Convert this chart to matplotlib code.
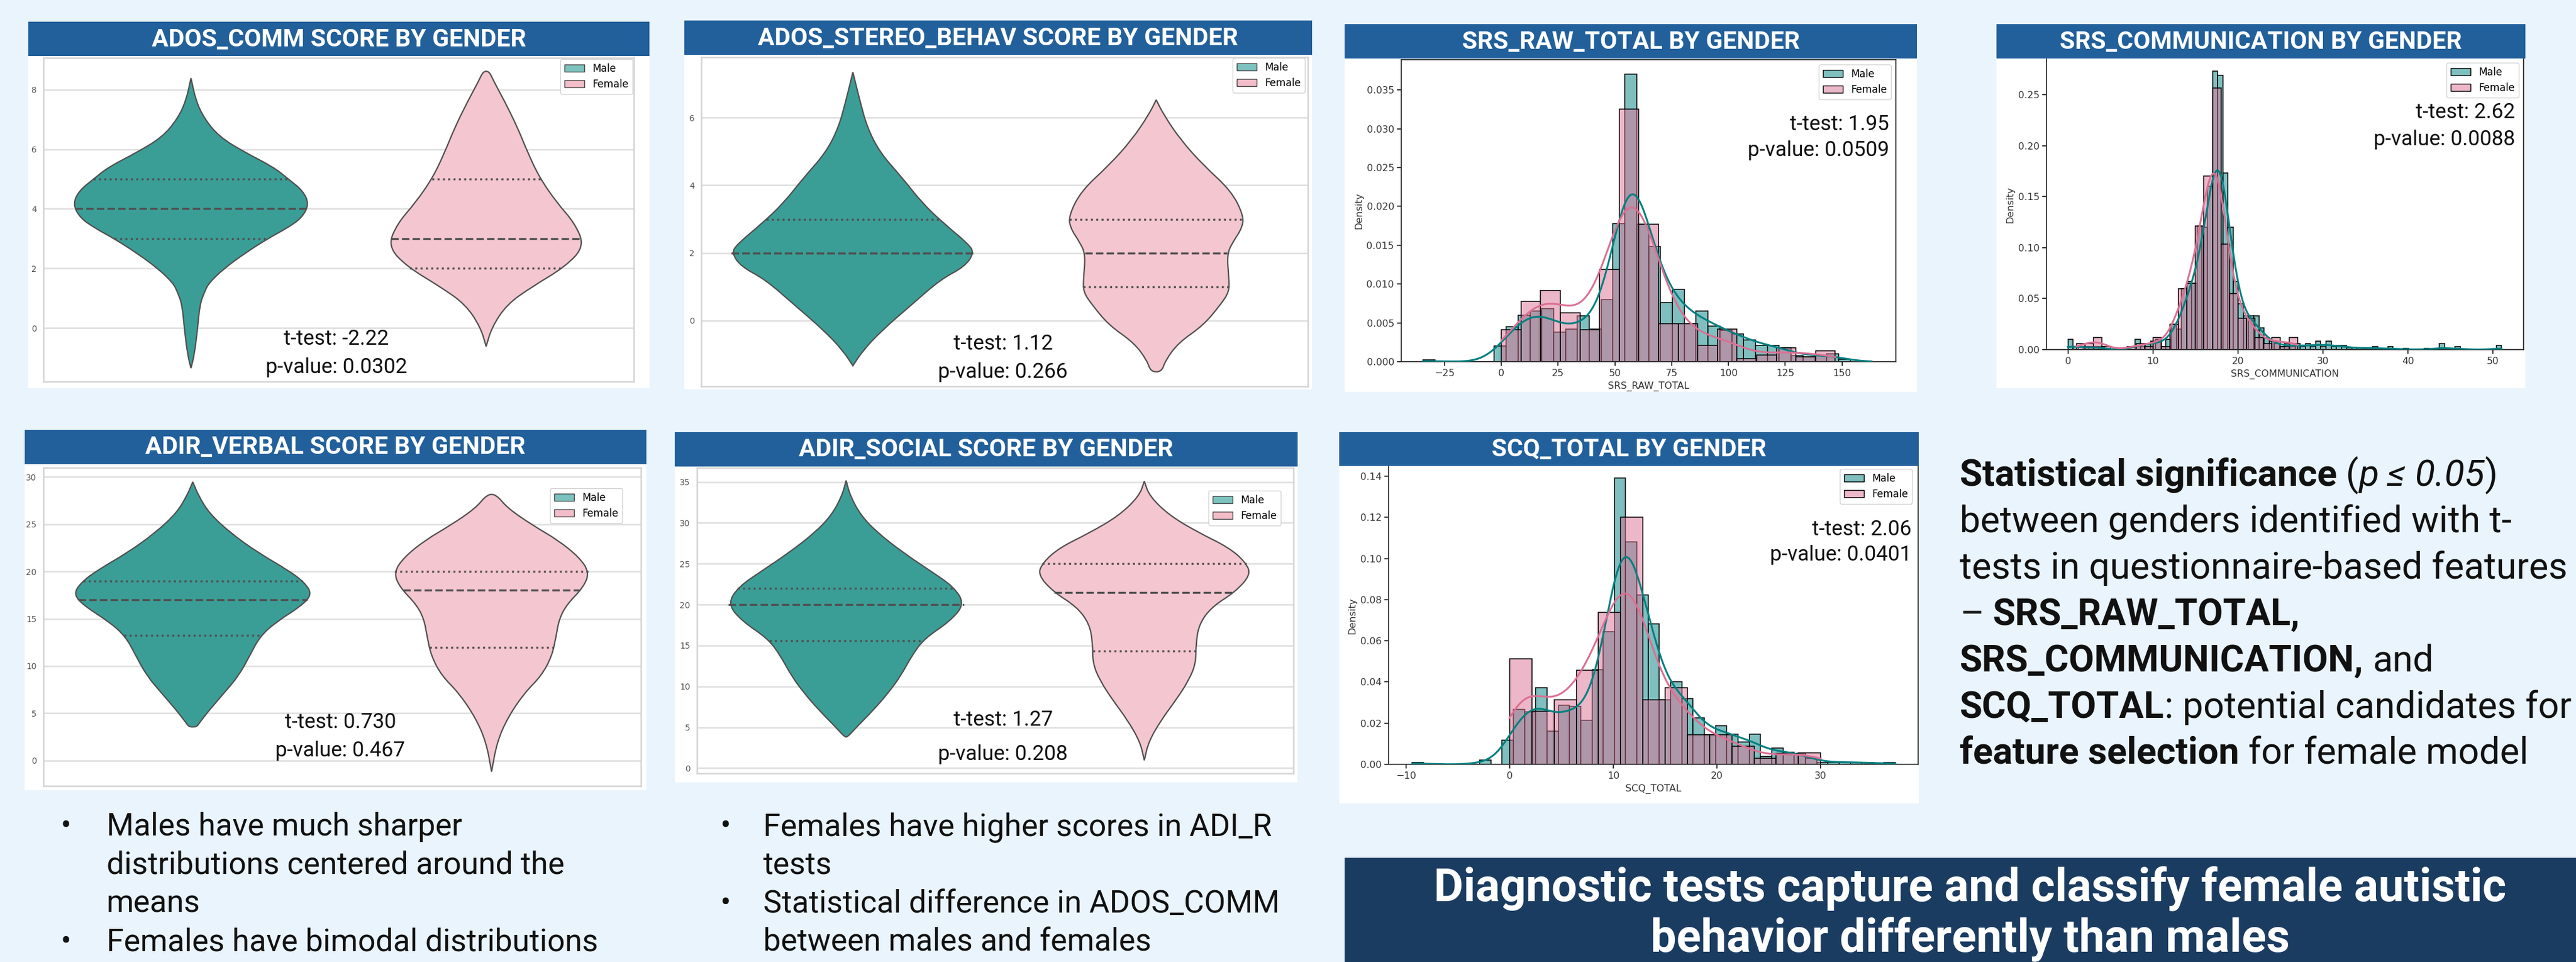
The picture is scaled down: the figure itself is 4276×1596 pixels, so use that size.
import numpy as np
import matplotlib
matplotlib.use("Agg")
import matplotlib.pyplot as plt
from matplotlib.patches import Rectangle, PathPatch, Patch
from matplotlib.path import Path
from matplotlib.colors import to_rgb

# ---------------- data ----------------
# violin outlines as (score, half width) pairs; quartiles as (q1, median, q3)
ados_comm_male = [(8.39, 0), (7.62, 0.017), (7.02, 0.046), (6.42, 0.096), (5.91, 0.18),
                  (5.40, 0.28), (5.0, 0.33), (4.6, 0.38), (4.15, 0.40), (3.69, 0.375),
                  (3.35, 0.325), (3.0, 0.26), (2.49, 0.18), (1.98, 0.11), (1.5, 0.06),
                  (1.21, 0.046), (0.79, 0.03), (-0.07, 0.022), (-0.92, 0.011), (-1.35, 0)]
ados_comm_female = [(8.62, 0.01), (8.3, 0.025), (7.62, 0.062), (6.76, 0.105), (5.91, 0.14),
                    (5.06, 0.18), (4.2, 0.24), (3.52, 0.30), (2.75, 0.333), (2.07, 0.27),
                    (1.38, 0.155), (0.79, 0.07), (0.02, 0.019), (-0.62, 0)]
ados_comm_quart = {"Male": (3, 4, 5), "Female": (2, 3, 5)}

stereo_male = [(7.35, 0), (6.47, 0.024), (5.72, 0.047), (4.97, 0.089), (4.22, 0.163),
               (3.47, 0.229), (2.87, 0.30), (2.27, 0.38), (2.0, 0.40), (1.59, 0.368),
               (1.22, 0.29), (0.47, 0.194), (-0.29, 0.096), (-0.89, 0.033), (-1.34, 0)]
stereo_female = [(6.53, 0), (6.10, 0.024), (5.35, 0.08), (4.59, 0.156), (3.84, 0.247),
                 (3.09, 0.289), (2.72, 0.282), (2.34, 0.254), (1.97, 0.233), (1.22, 0.24),
                 (0.84, 0.24), (0.47, 0.212), (-0.14, 0.156), (-0.66, 0.073), (-1.19, 0.03),
                 (-1.52, 0.018)]
stereo_quart = {"Male": (2, 2, 3), "Female": (1, 2, 3)}

verbal_male = [(29.46, 0), (27.97, 0.02), (26.15, 0.055), (24.07, 0.126), (21.99, 0.218),
               (20.17, 0.317), (18.87, 0.373), (17.56, 0.40), (16.26, 0.359), (14.70, 0.281),
               (13.14, 0.225), (11.06, 0.19), (8.98, 0.154), (7.16, 0.105), (5.33, 0.055),
               (4.03, 0.023), (3.56, 0.013)]
verbal_female = [(28.15, 0.015), (26.67, 0.054), (24.85, 0.139), (23.29, 0.223), (21.47, 0.294),
                 (19.9, 0.327), (18.35, 0.308), (16.52, 0.252), (14.96, 0.226), (13.14, 0.216),
                 (11.06, 0.202), (8.98, 0.167), (7.16, 0.11), (4.55, 0.054), (1.95, 0.018),
                 (-1.17, 0)]
verbal_quart = {"Male": (13.25, 17, 19), "Female": (12, 18, 20)}

social_male = [(35.18, 0), (33.28, 0.014), (30.88, 0.05), (28.77, 0.106), (26.37, 0.191),
               (24.26, 0.277), (22.16, 0.362), (20.05, 0.397), (17.95, 0.348), (15.84, 0.262),
               (13.74, 0.22), (11.33, 0.184), (9.23, 0.142), (7.13, 0.092), (5.02, 0.035),
               (3.82, 0.005)]
social_female = [(35.09, 0), (33.28, 0.017), (30.88, 0.085), (28.77, 0.184), (26.97, 0.284),
                 (25.17, 0.34), (23.66, 0.357), (21.56, 0.305), (19.75, 0.227), (17.65, 0.184),
                 (15.24, 0.173), (12.84, 0.173), (10.73, 0.149), (8.33, 0.106), (5.92, 0.057),
                 (3.22, 0.014), (0.96, 0)]
social_quart = {"Male": (15.6, 20, 22), "Female": (14.3, 21.5, 25)}

# histograms: first bin edge, bin width, density per bin
srs_raw_male_start, srs_raw_male_width = -34.5, 5.228
srs_raw_male = [0.0002, 0, 0, 0, 0, 0, 0.0020, 0.0045, 0.0060, 0.0065, 0.0068, 0.0038,
                0.0042, 0.0059, 0.0042, 0.0080, 0.0178, 0.0370, 0.0177, 0.0148, 0.0076,
                0.0093, 0.0049, 0.0065, 0.0046, 0.0040, 0.0036, 0.0028, 0.0021, 0.0021,
                0.0018, 0.0008, 0.00065, 0.0008, 0.0010, 0.0003]
srs_raw_female_start, srs_raw_female_width = 0.0, 8.647
srs_raw_female = [0.00415, 0.00777, 0.0092, 0.00627, 0.00415, 0.0119, 0.0325, 0.01767,
                  0.0049, 0.0049, 0.0021, 0.0042, 0.0004, 0.00083, 0.0018, 0.00065, 0.00137]

srs_comm_male_start, srs_comm_male_width = 0.0, 0.607
srs_comm_male = [0.010, 0.003, 0, 0.003, 0.003, 0.003, 0.003, 0, 0, 0, 0, 0, 0,
                 0.010, 0.003, 0.006, 0.008, 0.010, 0.003, 0.010, 0.025, 0.020, 0.060,
                 0.067, 0.065, 0.121, 0.120, 0.160, 0.273, 0.269, 0.173, 0.120, 0.067,
                 0.045, 0.033, 0.033, 0.033, 0.021, 0.012, 0.008, 0.006, 0.003, 0.006,
                 0.003, 0.006, 0.003, 0.006, 0.003, 0.008, 0.003, 0.008, 0.003, 0.004,
                 0.004, 0.002, 0.002, 0.002, 0.001, 0.002, 0.003, 0, 0.001, 0.003, 0, 0,
                 0.001, 0, 0, 0, 0.001, 0, 0, 0.006, 0, 0, 0.003, 0, 0, 0, 0, 0, 0, 0,
                 0.004]
srs_comm_female_start, srs_comm_female_width = 1.0, 1.0
srs_comm_female = [0.006, 0.006, 0.012, 0.003, 0, 0, 0.003, 0.006, 0.003, 0.012, 0.003,
                   0.025, 0.060, 0.065, 0.121, 0.170, 0.2565, 0.1035, 0.055, 0.031, 0.031,
                   0.012, 0.006, 0.012, 0.003, 0.012]

scq_male_start, scq_male_width = -9.4, 1.0837
scq_male = [0.0010, 0, 0, 0, 0, 0, 0.0020, 0, 0.0117, 0.0266, 0.0254, 0.0373, 0.0160,
            0.0288, 0.0282, 0.0215, 0.0460, 0.0644, 0.1390, 0.1080, 0.0824, 0.0683, 0.0312,
            0.0400, 0.0320, 0.0227, 0.0143, 0.0187, 0.0146, 0.0107, 0.0146, 0.0039, 0.0078,
            0.0058, 0.0054, 0.0029, 0.0010, 0.0010, 0.0010, 0.0010, 0.0010, 0, 0.0010]
scq_female_start, scq_female_width = 0.0, 2.1429
scq_female = [0.0514, 0.0257, 0.0312, 0.0456, 0.0737, 0.1200, 0.0312, 0.0373, 0.0143,
              0.0143, 0.0088, 0.0029, 0.0054, 0.0057]

# t-test results shown on each chart
stats = {
    "ADOS_COMM": ("t-test: -2.22", "p-value: 0.0302"),
    "ADOS_STEREO_BEHAV": ("t-test: 1.12", "p-value: 0.266"),
    "ADIR_VERBAL": ("t-test: 0.730", "p-value: 0.467"),
    "ADIR_SOCIAL": ("t-test: 1.27", "p-value: 0.208"),
    "SRS_RAW_TOTAL": ("t-test: 1.95", "p-value: 0.0509"),
    "SRS_COMMUNICATION": ("t-test: 2.62", "p-value: 0.0088"),
    "SCQ_TOTAL": ("t-test: 2.06", "p-value: 0.0401"),
}

bullets_left = [("Males have much sharper", True), ("distributions centered around the", False),
                ("means", False), ("Females have bimodal distributions", True)]
bullets_mid = [("Females have higher scores in ADI_R", True), ("tests", False),
               ("Statistical difference in ADOS_COMM", True), ("between males and females", False)]
conclusion = ["Diagnostic tests capture and classify female autistic",
              "behavior differently than males"]

# ---------------- look ----------------
W, H = 4276, 1596
BG = "#eaf4fc"
BAR_BG = "#22609b"
BOX_BG = "#1b3c61"
MALE_V, FEMALE_V = "#3a9e97", "#f4c6d0"
MALE_LEG, FEMALE_LEG = "#7cc3bf", "#f2bdc8"
MALE_H, FEMALE_H = "#008080", "#db7093"
FONT = ["Roboto", "DejaVu Sans"]

fig = plt.figure(figsize=(W / 100, H / 100), dpi=100)
fig.patch.set_facecolor(BG)
renderer = fig.canvas.get_renderer()


def rect(x0, y0, x1, y1):
    return [x0 / W, 1 - y1 / H, (x1 - x0) / W, (y1 - y0) / H]


def box(x0, y0, x1, y1, color):
    fig.patches.append(Rectangle((x0 / W, 1 - y1 / H), (x1 - x0) / W, (y1 - y0) / H,
                                 transform=fig.transFigure, facecolor=color,
                                 edgecolor="none", zorder=-2))


def ftext(x, y, s, **kw):
    kw.setdefault("family", FONT)
    return fig.text(x / W, 1 - y / H, s, **kw)


def text_width(s, size, **kw):
    t = ftext(0, 0, s, fontsize=size, **kw)
    w = t.get_window_extent(renderer=renderer).width
    t.remove()
    return w


def fit_size(s, target, **kw):
    # font size that makes s about `target` pixels wide
    return 20 * target / text_width(s, 20, **kw)


TITLE_SIZE = fit_size("ADOS_COMM SCORE BY GENDER", 620, fontweight="bold")
STAT_SIZE = fit_size("p-value: 0.0302", 234)
BS = fit_size("Males have much sharper", 589)
CS = fit_size(conclusion[0], 1774, fontweight="bold")


def card(title, x0, y0, x1, ybar, y1):
    box(x0, ybar, x1, y1, "white")
    box(x0, y0, x1, ybar, BAR_BG)
    ftext((x0 + x1) / 2, (y0 + ybar) / 2 + 1, title, color="white", fontsize=TITLE_SIZE,
          fontweight="bold", ha="center", va="center")


def smooth_path(pts):
    n = len(pts)
    verts = [(pts[0] + pts[1]) / 2]
    codes = [Path.MOVETO]
    for i in range(1, n + 1):
        p, q = pts[i % n], pts[(i + 1) % n]
        verts += [p, (p + q) / 2]
        codes += [Path.CURVE3, Path.CURVE3]
    return Path(verts, codes)


def draw_violin(ax, pos, prof, face, quarts):
    arr = np.array(prof, dtype=float)
    arr = arr[np.argsort(arr[:, 0])]
    y, hw = arr[:, 0], arr[:, 1]
    pts = np.vstack([np.column_stack([pos + hw, y]),
                     np.column_stack([pos - hw, y])[::-1]])
    ax.add_patch(PathPatch(smooth_path(pts), facecolor=face, edgecolor="#505050",
                           lw=1.6, zorder=3))
    for q, ls in zip(quarts, (":", "--", ":")):
        w = np.interp(q, y, hw)
        ax.plot([pos - w, pos + w], [q, q], color="#505050", ls=ls, lw=2.4, zorder=4)


def legend(ax, handles, corner, size):
    ax.legend(handles=handles, loc="upper right",
              bbox_to_anchor=(corner[0] / W, 1 - corner[1] / H),
              bbox_transform=fig.transFigure, fontsize=size, borderaxespad=0,
              framealpha=0.95, edgecolor="#d0d0d0", fancybox=True)


violin_panels = [
    ("ADOS_COMM", (47, 36, 1078, 93, 644), (72, 96, 1052, 633), (-1.8, 9.07), range(0, 9, 2),
     ados_comm_male, ados_comm_female, ados_comm_quart, (558, 563, 610), (1050, 98)),
    ("ADOS_STEREO_BEHAV", (1136, 34, 2178, 91, 646), (1164, 95, 2171, 641), (-1.95, 7.79),
     range(0, 7, 2), stereo_male, stereo_female, stereo_quart, (1665, 570, 617), (2166, 96)),
    ("ADIR_VERBAL", (41, 713, 1073, 770, 1311), (72, 776, 1064, 1304), (-2.68, 30.96),
     range(0, 31, 5), verbal_male, verbal_female, verbal_quart, (565, 1198, 1245), (1033, 810)),
    ("ADIR_SOCIAL", (1120, 717, 2154, 774, 1298), (1157, 776, 2147, 1283), (-0.63, 36.74),
     range(0, 36, 5), social_male, social_female, social_quart, (1665, 1195, 1251), (2126, 814)),
]

for name, cardpos, axpos, ylim, ticks, male, female, quart, spos, lcorner in violin_panels:
    card(name + " SCORE BY GENDER", *cardpos)
    ax = fig.add_axes(rect(*axpos))
    ax.set_facecolor("white")
    ax.set_xlim(-0.5, 1.5)
    ax.set_ylim(*ylim)
    ax.set_yticks(list(ticks))
    ax.set_xticks([])
    ax.yaxis.grid(True, color="#dedede", lw=1.8, zorder=0)
    ax.set_axisbelow(True)
    for sp in ax.spines.values():
        sp.set_color("#d4d4d4")
        sp.set_linewidth(1.8)
    ax.tick_params(axis="y", length=0, labelsize=10, labelcolor="#555555", pad=8)
    draw_violin(ax, 0, male, MALE_V, quart["Male"])
    draw_violin(ax, 1, female, FEMALE_V, quart["Female"])
    legend(ax, [Patch(facecolor=MALE_LEG, edgecolor="#444444", label="Male"),
                Patch(facecolor=FEMALE_LEG, edgecolor="#444444", label="Female")], lcorner, 12)
    t1, t2 = stats[name]
    ftext(spos[0], spos[1], t1, fontsize=STAT_SIZE, ha="center", va="center", color="#111111")
    ftext(spos[0], spos[2], t2, fontsize=STAT_SIZE, ha="center", va="center", color="#111111")


def draw_hist(ax, start, width, heights, color):
    h = np.asarray(heights, dtype=float)
    lefts = start + width * np.arange(len(h))
    ax.bar(lefts, h, width=width, align="edge", facecolor=(*to_rgb(color), 0.5),
           edgecolor="black", linewidth=1.1, zorder=2)


def draw_kde(ax, start, width, heights, bw, lo, hi, color):
    h = np.asarray(heights, dtype=float)
    centers = start + width * (np.arange(len(h)) + 0.5)
    wts = h / h.sum()
    xs = np.linspace(lo, hi, 600)
    dens = np.exp(-0.5 * ((xs[:, None] - centers[None, :]) / bw) ** 2) @ wts
    ax.plot(xs, dens / (bw * np.sqrt(2 * np.pi)), color=color, lw=2.2, zorder=3)


hist_panels = [
    ("SRS_RAW_TOTAL", (2232, 40, 3182, 97, 650), (2326, 99, 3147, 600), (-44.1, 173.7),
     (0, 0.0389), range(-25, 151, 25), np.arange(0, 0.0351, 0.005), "{:.3f}",
     (srs_raw_male_start, srs_raw_male_width, srs_raw_male, 7.0, -34.5, 163),
     (srs_raw_female_start, srs_raw_female_width, srs_raw_female, 9.5, 0, 147),
     (3136, 206, 250), (3139, 107), True),
    ("SRS_COMMUNICATION", (3314, 40, 4192, 97, 644), (3397, 98, 4189, 580), (-2.53, 53.6),
     (0, 0.285), range(0, 51, 10), np.arange(0, 0.251, 0.05), "{:.2f}",
     (srs_comm_male_start, srs_comm_male_width, srs_comm_male, 1.0, 0, 51),
     (srs_comm_female_start, srs_comm_female_width, srs_comm_female, 1.1, 1, 27),
     (4175, 187, 231), (4181, 104), False),
    ("SCQ_TOTAL", (2223, 717, 3185, 773, 1333), (2305, 774, 3184, 1268), (-11.67, 39.4),
     (0, 0.1447), range(-10, 31, 10), np.arange(0, 0.141, 0.02), "{:.2f}",
     (scq_male_start, scq_male_width, scq_male, 1.3, -9.4, 37.2),
     (scq_female_start, scq_female_width, scq_female, 1.95, 0, 30),
     (3173, 878, 921), (3174, 778), False),
]

for name, cardpos, axpos, xlim, ylim, xt, yt, fmt, m, f, spos, lcorner, top in hist_panels:
    card(name + " BY GENDER", *cardpos)
    ax = fig.add_axes(rect(*axpos))
    ax.set_facecolor("white")
    draw_hist(ax, m[0], m[1], m[2], MALE_H)
    draw_hist(ax, f[0], f[1], f[2], FEMALE_H)
    draw_kde(ax, *m, MALE_H)
    draw_kde(ax, *f, FEMALE_H)
    ax.set_xlim(*xlim)
    ax.set_ylim(*ylim)
    ax.set_xticks(list(xt))
    ax.set_yticks(yt)
    ax.set_yticklabels([fmt.format(v) for v in yt])
    ax.spines["top"].set_visible(top)
    for sp in ax.spines.values():
        sp.set_color("#333333")
        sp.set_linewidth(1.3)
    ax.tick_params(labelsize=11.5, labelcolor="#333333", length=5, width=1.1)
    ax.set_xlabel(name, fontsize=11.5, color="#333333")
    ax.set_ylabel("Density", fontsize=11.5, color="#333333")
    legend(ax, [Patch(facecolor=(*to_rgb(MALE_H), 0.5), edgecolor="black", label="Male"),
                Patch(facecolor=(*to_rgb(FEMALE_H), 0.5), edgecolor="black", label="Female")],
           lcorner, 12)
    t1, t2 = stats[name]
    ftext(spos[0], spos[1], t1, fontsize=STAT_SIZE, ha="right", va="center", color="#111111")
    ftext(spos[0], spos[2], t2, fontsize=STAT_SIZE, ha="right", va="center", color="#111111")

# ---------------- slide text ----------------
summary = [
    [("Statistical significance", "bold", "normal", False), ("(", "normal", "normal", True),
     ("p \u2264 0.05", "normal", "italic", False), (")", "normal", "normal", False)],
    [("between genders identified with t-", "normal", "normal", False)],
    [("tests in questionnaire-based features", "normal", "normal", False)],
    [("\u2013", "normal", "normal", False), ("SRS_RAW_TOTAL,", "bold", "normal", True)],
    [("SRS_COMMUNICATION,", "bold", "normal", False), ("and", "normal", "normal", True)],
    [("SCQ_TOTAL", "bold", "normal", False), (": potential candidates for", "normal", "normal", False)],
    [("feature selection", "bold", "normal", False), ("for female model", "normal", "normal", True)],
]


def line_width(parts, size):
    sp = text_width("a a", size) - text_width("aa", size)
    return sum(text_width(s, size, fontweight=wt, fontstyle=st) + (sp if gap else 0)
               for s, wt, st, gap in parts)


# the block is sized so its widest line just reaches the slide's right edge
RS = 20 * 1012 / max(line_width(p, 20) for p in summary)
space = text_width("a a", RS) - text_width("aa", RS)


def rich_line(x, y, parts):
    for s, weight, style, gap in parts:
        if gap:
            x += space
        t = ftext(x, y, s, fontsize=RS, fontweight=weight, fontstyle=style,
                  va="baseline", ha="left", color="#111111")
        x += t.get_window_extent(renderer=renderer).width


for i, parts in enumerate(summary):
    rich_line(3253, 806 + 77 * i, parts)

for col, (bx, tx) in zip((bullets_left, bullets_mid), ((109, 177), (1204, 1267))):
    for i, (s, dot) in enumerate(col):
        yb = 1386 + 64 * i
        if dot:
            ftext(bx, yb, "\u2022", fontsize=BS, ha="center", va="baseline", color="#111111")
        ftext(tx, yb, s, fontsize=BS, ha="left", va="baseline", color="#111111")

box(2232, 1423, W, H, BOX_BG)
for s, yb in zip(conclusion, (1494, 1578)):
    ftext(3270, yb, s, fontsize=CS, fontweight="bold", color="white", ha="center", va="baseline")

fig.savefig("out.png", dpi=100, facecolor=BG)
